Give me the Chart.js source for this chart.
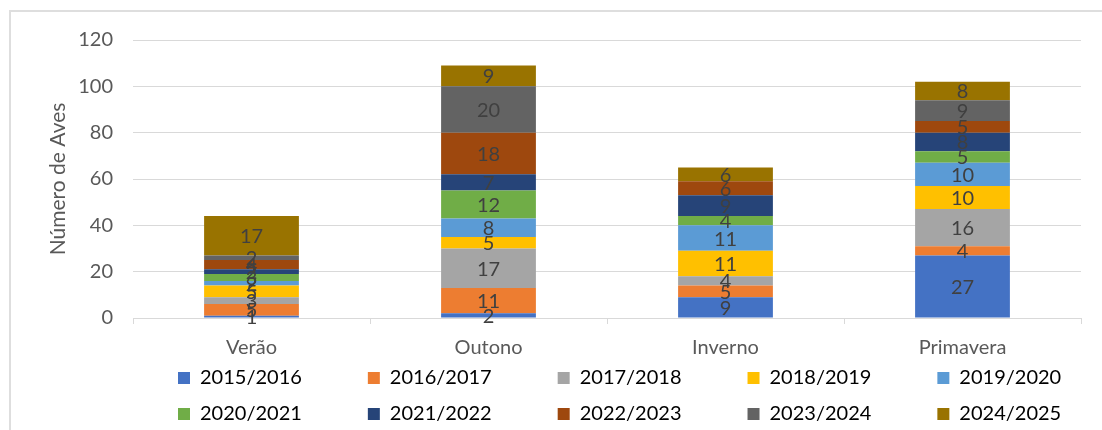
<!DOCTYPE html>
<html>
<head>
<meta charset="utf-8">
<script src="https://cdn.jsdelivr.net/npm/chart.js@4.4.1/dist/chart.umd.min.js"></script>
<style>
  html, body { margin: 0; padding: 0; background: #fff; overflow: hidden; }
  #bingkai { position: absolute; left: 9px; top: 10px; width: 1200px; height: 600px; border: 2px solid #dedede; }
  #wadah { position: absolute; left: 0; top: 0; width: 1102px; height: 446px; }
</style>
</head>
<body>
<div id="bingkai"></div>
<div id="wadah"><canvas id="grafik_aves"></canvas></div>
<script>
// Kategori musim dan nilai tiap periode
var musim = ["Verão", "Outono", "Inverno", "Primavera"];
var periode = ["2015/2016", "2016/2017", "2017/2018", "2018/2019", "2019/2020",
               "2020/2021", "2021/2022", "2022/2023", "2023/2024", "2024/2025"];

var nilai_1516 = [1, 2, 9, 27];
var nilai_1617 = [5, 11, 5, 4];
var nilai_1718 = [3, 17, 4, 16];
var nilai_1819 = [5, 5, 11, 10];
var nilai_1920 = [2, 8, 11, 10];
var nilai_2021 = [3, 12, 4, 5];
var nilai_2122 = [2, 7, 9, 8];
var nilai_2223 = [4, 18, 6, 5];
var nilai_2324 = [2, 20, 0, 9];
var nilai_2425 = [17, 9, 6, 8];

var label_sumbu_y = [0, 20, 40, 60, 80, 100, 120];

var semua_nilai = [nilai_1516, nilai_1617, nilai_1718, nilai_1819, nilai_1920,
                   nilai_2021, nilai_2122, nilai_2223, nilai_2324, nilai_2425];
var warna = ["#4472C4", "#ED7D31", "#A5A5A5", "#FFC000", "#5B9BD5",
             "#70AD47", "#264478", "#9E480E", "#636363", "#997300"];

Chart.defaults.font.family = "Lato";
Chart.defaults.font.size = 20;
Chart.defaults.color = "#595959";

// Label angka di tengah tiap potongan batang
const labelBatang = {
  id: "labelBatang",
  afterDatasetsDraw(chart) {
    const ctx = chart.ctx;
    ctx.save();
    ctx.font = "20px Lato";
    ctx.fillStyle = "#404040";
    ctx.textAlign = "center";
    ctx.textBaseline = "middle";
    chart.data.datasets.forEach(function (ds, i) {
      chart.getDatasetMeta(i).data.forEach(function (bar, j) {
        const v = ds.data[j];
        if (!v) return;
        ctx.fillText(String(v), bar.x, (bar.y + bar.base) / 2 + 1);
      });
    });
    ctx.restore();
  },
};

// Geser legenda supaya posisinya seperti gambar asli
const geserLegenda = {
  id: "geserLegenda",
  afterLayout(chart) {
    const lg = chart.legend;
    if (!lg || !lg.lineWidths) return;
    const pad = lg.options.labels.padding;
    const mulai = (lg.left + pad + lg.right - lg.lineWidths[0]) / 2;
    const dx = 178 - mulai;
    lg.left += dx;
    lg.right += dx;
    const dy = 352 - lg.top;
    lg.top += dy;
    lg.bottom += dy;
  },
};

const data = {
  labels: musim,
  datasets: periode.map(function (p, i) {
    return {
      label: p,
      data: semua_nilai[i],
      backgroundColor: warna[i],
      borderWidth: 0,
      barPercentage: 0.4,
      categoryPercentage: 1,
    };
  }),
};

const config = {
  type: "bar",
  data: data,
  options: {
    responsive: true,
    maintainAspectRatio: false,
    animation: false,
    layout: { padding: { left: 42, top: 40, right: 21, bottom: 0 } },
    plugins: {
      tooltip: { enabled: false },
      legend: {
        position: "bottom",
        labels: {
          boxWidth: 12,
          boxHeight: 12,
          padding: 16,
          color: "#595959",
          font: { size: 20 },
          generateLabels: function (chart) {
            return chart.data.datasets.map(function (ds, i) {
              return {
                text: ds.label + "\u2002\u2002\u2002\u2002\u2002",
                fillStyle: ds.backgroundColor,
                strokeStyle: ds.backgroundColor,
                lineWidth: 0,
                hidden: false,
                datasetIndex: i,
              };
            });
          },
        },
      },
    },
    scales: {
      x: {
        stacked: true,
        grid: { offset: true, drawOnChartArea: false, color: "#d9d9d9", tickLength: 6 },
        border: { color: "#d9d9d9" },
        ticks: { padding: 12, color: "#595959" },
        afterFit: function (scale) { scale.height = 46; },
      },
      y: {
        stacked: true,
        min: 0,
        max: 120,
        afterBuildTicks: function (scale) {
          scale.ticks = label_sumbu_y.map(function (v) { return { value: v }; });
        },
        grid: { color: "#d9d9d9", drawTicks: false },
        border: { display: false },
        ticks: { padding: 20, color: "#595959" },
        title: { display: true, text: "Número de Aves", color: "#595959", font: { size: 21 } },
        afterFit: function (scale) { scale.width = 133 - 42; },
      },
    },
  },
  plugins: [labelBatang, geserLegenda],
};

const grafik = document.getElementById("grafik_aves").getContext("2d");
const grafik_aves = new Chart(grafik, config);
</script>
</body>
</html>
